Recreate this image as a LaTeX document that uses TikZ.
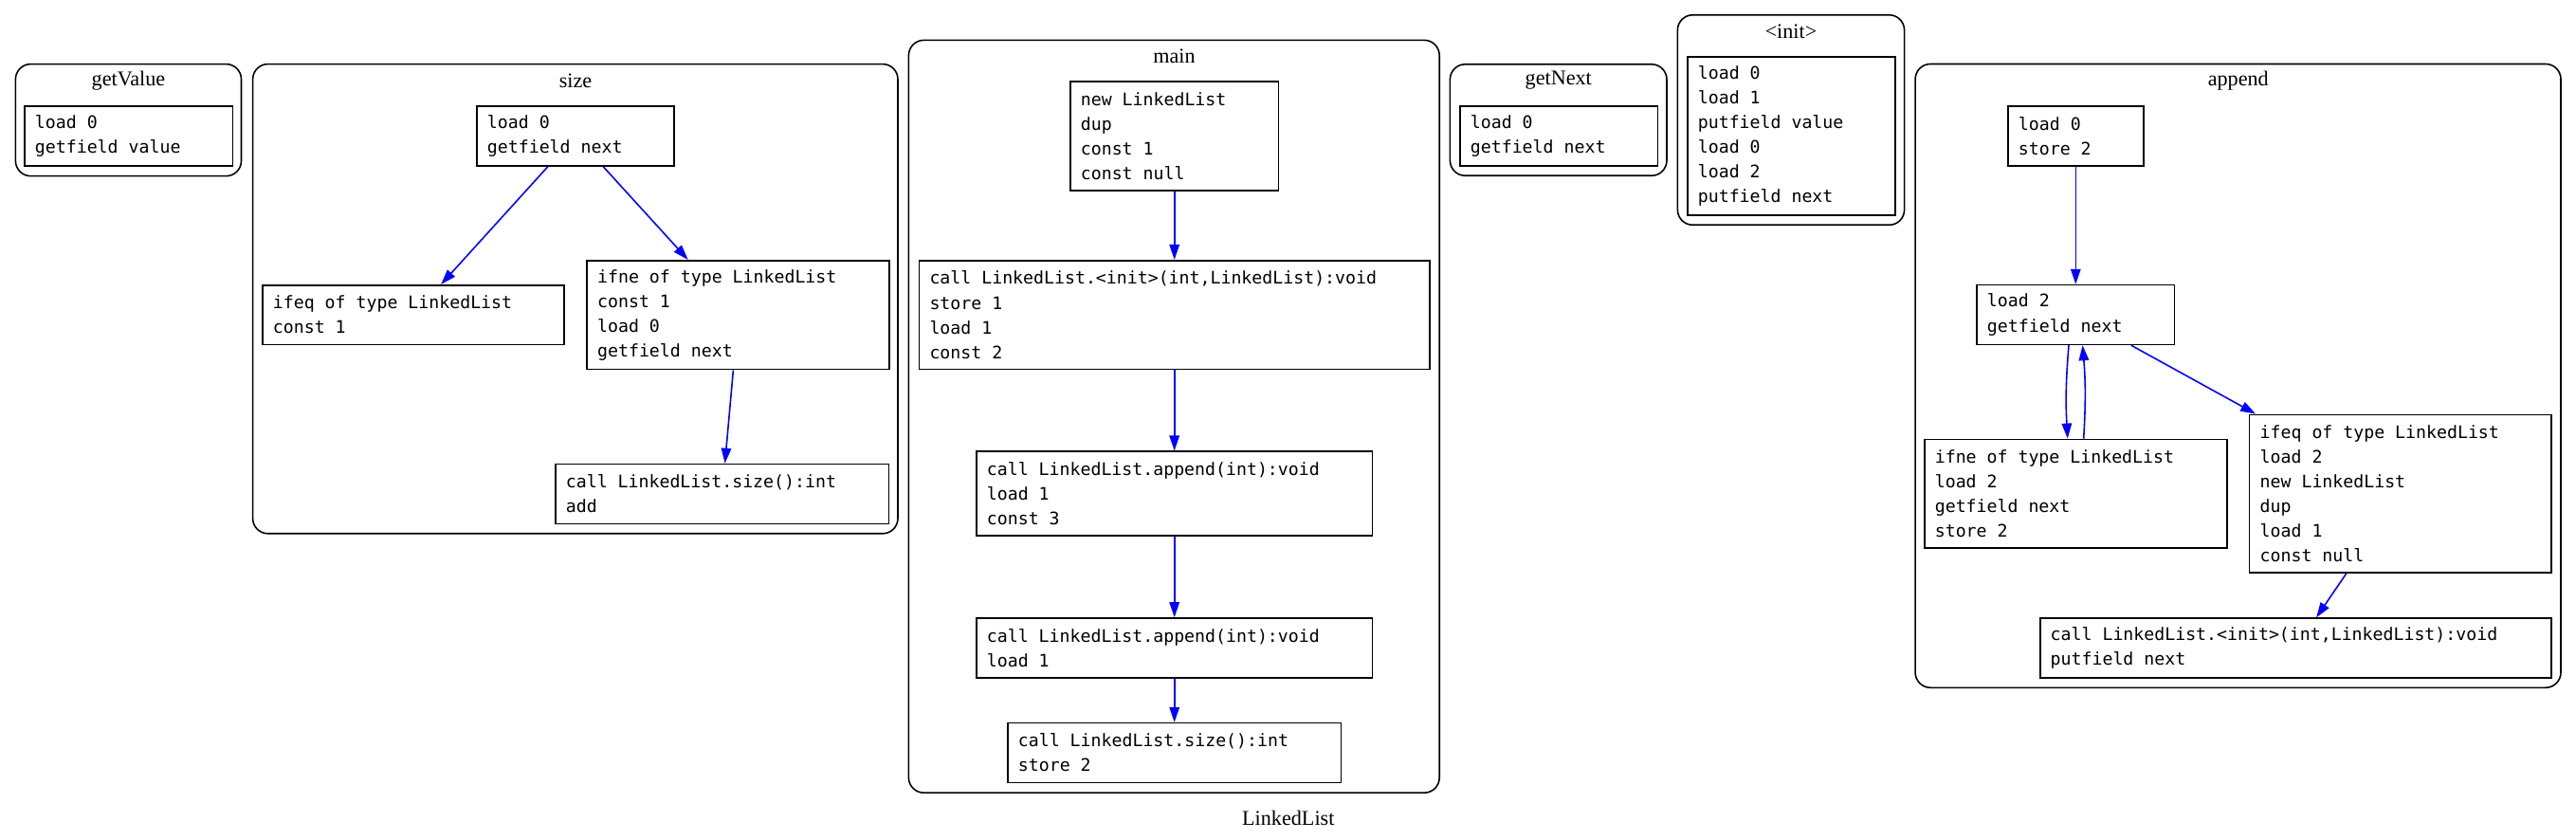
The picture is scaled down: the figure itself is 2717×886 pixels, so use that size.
\documentclass[tikz,border=0pt]{standalone}
\usepackage{fontspec}
\usetikzlibrary{arrows.meta}
\newfontfamily\monofam{DejaVu Sans Mono}
\newfontfamily\serifam{Liberation Serif}
\newcommand\insfont{\monofam\fontsize{5.18pt}{7.4pt}\selectfont}
\newcommand\labfont{\serifam\fontsize{6.3pt}{7.6pt}\selectfont}

\begin{document}
\begin{tikzpicture}[x=0.01cm, y=-0.01cm,
  ins/.style={draw, line width=0.45pt, font=\insfont, align=flush left, inner xsep=0.11cm, inner ysep=0pt},
  cluster/.style={draw, line width=0.45pt, rounded corners=0.16cm},
  lab/.style={font=\labfont, inner sep=0pt},
  flow/.style={draw=blue, line width=0.45pt, -{Triangle[length=0.16cm,width=0.105cm]}}]
\useasboundingbox (0,0) rectangle (2717,886);

\draw[cluster] (16.4,67.6) rectangle (254.5,185.7);
\node[lab] (tgv) at (135.5,84.8) {getValue};
\node[ins, text width=1.974cm, minimum height=0.628cm] (gv) at (135.7,143.6) {load 0\\getfield value};

\draw[cluster] (266.6,67.6) rectangle (947,562.8);
\node[lab] (tsize) at (607,84.8) {size};
\node[ins, text width=1.86cm, minimum height=0.628cm] (sA) at (607,143.6) {load 0\\getfield next};
\node[ins, text width=2.96cm, minimum height=0.628cm] (sB) at (436,332.2) {ifeq of type LinkedList\\const 1};
\node[ins, text width=2.967cm, minimum height=1.148cm] (sC) at (778.6,332.2) {ifne of type LinkedList\\const 1\\load 0\\getfield next};
\node[ins, text width=3.295cm, minimum height=0.628cm] (sD) at (761.7,521) {call LinkedList.size():int\\add};

\draw[cluster] (958.4,42.4) rectangle (1518.2,836.2);
\node[lab] (tmain) at (1238.5,58.8) {main};
\node[ins, text width=1.976cm, minimum height=1.148cm] (m1) at (1238.7,143.3) {new LinkedList\\dup\\const 1\\const null};
\node[ins, text width=5.161cm, minimum height=1.148cm] (m2) at (1238.7,332.2) {call LinkedList.<init>(int,LinkedList):void\\store 1\\load 1\\const 2};
\node[ins, text width=3.954cm, minimum height=0.888cm] (m3) at (1238.7,520.7) {call LinkedList.append(int):void\\load 1\\const 3};
\node[ins, text width=3.954cm, minimum height=0.628cm] (m4) at (1238.7,683.4) {call LinkedList.append(int):void\\load 1};
\node[ins, text width=3.294cm, minimum height=0.628cm] (m5) at (1238.7,794.1) {call LinkedList.size():int\\store 2};

\draw[cluster] (1529.4,67.8) rectangle (1758,185.3);
\node[lab] (tgn) at (1643.8,84.8) {getNext};
\node[ins, text width=1.863cm, minimum height=0.628cm] (gn) at (1644.1,143.6) {load 0\\getfield next};

\draw[cluster] (1769.4,15.8) rectangle (2008.6,237.3);
\node[lab] (tinit) at (1889,32.8) {<init>};
\node[ins, text width=1.968cm, minimum height=1.668cm] (in) at (1889.3,143.5) {load 0\\load 1\\putfield value\\load 0\\load 2\\putfield next};

\draw[cluster] (2020.1,67.5) rectangle (2701,725.3);
\node[lab] (tapp) at (2360.8,84.9) {append};
\node[ins, text width=1.207cm, minimum height=0.628cm] (a1) at (2189.3,143.5) {load 0\\store 2};
\node[ins, text width=1.866cm, minimum height=0.628cm] (a2) at (2189.3,332) {load 2\\getfield next};
\node[ins, text width=2.968cm, minimum height=1.148cm] (a3) at (2189.3,520.8) {ifne of type LinkedList\\load 2\\getfield next\\store 2};
\node[ins, text width=2.963cm, minimum height=1.668cm] (a4) at (2531.9,520.8) {ifeq of type LinkedList\\load 2\\new LinkedList\\dup\\load 1\\const null};
\node[ins, text width=5.167cm, minimum height=0.628cm] (a5) at (2421.2,683.6) {call LinkedList.<init>(int,LinkedList):void\\putfield next};

\node[lab] (tll) at (1358.8,863) {LinkedList};

\draw[flow] (sA) -- (sB);
\draw[flow] (sA) -- (sC);
\draw[flow] (sC) -- (sD);
\draw[flow] (m1) -- (m2);
\draw[flow] (m2) -- (m3);
\draw[flow] (m3) -- (m4);
\draw[flow] (m4) -- (m5);
\draw[flow] (a1) -- (a2);
\draw[flow] ([xshift=-0.073cm]a2.south) to[bend right=4] ([xshift=-0.085cm]a3.north);
\draw[flow] ([xshift=0.084cm]a3.north) to[bend right=4] ([xshift=0.073cm]a2.south);
\draw[flow] (a2) -- (a4);
\draw[flow] (a4) -- (a5);
\end{tikzpicture}
\end{document}
